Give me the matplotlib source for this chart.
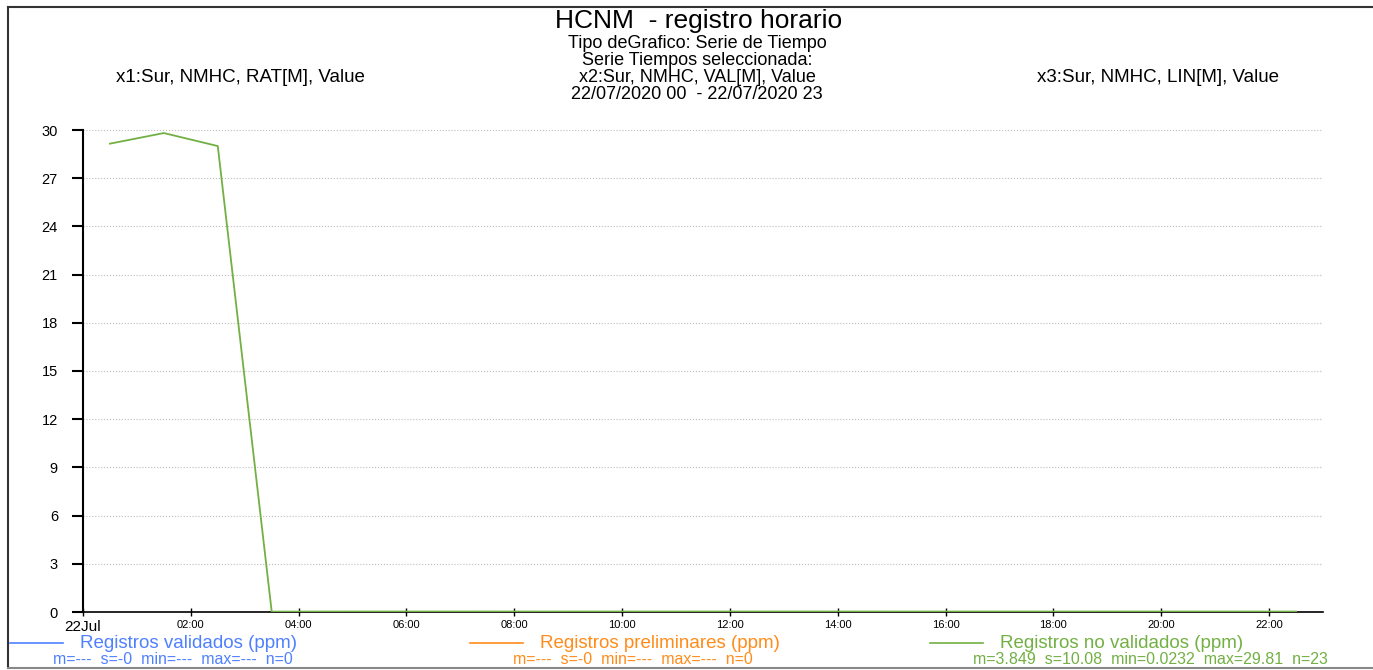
import numpy as np
import pandas as pd
import matplotlib
matplotlib.use("Agg")
import matplotlib.pyplot as plt
from matplotlib.lines import Line2D

plt.rcParams['font.family'] = ['Liberation Sans', 'DejaVu Sans']

# datos: registros horarios del 22/07/2020 (hora en horas decimales)
horas = [0.5, 1.5, 2.5, 3.5, 4.5, 5.5, 6.5, 7.5, 8.5, 9.5, 10.5, 11.5,
         12.5, 13.5, 14.5, 15.5, 16.5, 17.5, 18.5, 19.5, 20.5, 21.5, 22.5]
no_validados = [29.15, 29.81, 29.0, 0.0232, 0.028, 0.03, 0.029, 0.031, 0.027,
                0.03, 0.028, 0.029, 0.03, 0.031, 0.028, 0.027, 0.03, 0.029,
                0.028, 0.03, 0.029, 0.028, 0.027]

ticks_x = [0, 2, 4, 6, 8, 10, 12, 14, 16, 18, 20, 22]
etiquetas_x = ["22Jul", "02:00", "04:00", "06:00", "08:00", "10:00", "12:00",
               "14:00", "16:00", "18:00", "20:00", "22:00"]
ticks_y = [0, 3, 6, 9, 12, 15, 18, 21, 24, 27, 30]

series = ["Registros validados (ppm)", "Registros preliminares (ppm)",
          "Registros no validados (ppm)"]
estadisticas = ["m=---  s=-0  min=---  max=---  n=0",
                "m=---  s=-0  min=---  max=---  n=0",
                "m=3.849  s=10.08  min=0.0232  max=29.81  n=23"]
colores = ["#4f80ff", "#ff8c1a", "#72b043"]

W, H = 1373, 670


def px(x, y):
    # pixeles -> fraccion de figura
    return x / W, 1 - y / H


fig = plt.figure(figsize=(W / 100, H / 100), dpi=100)
ax = fig.add_axes([83 / W, 1 - 612 / H, (1323 - 83) / W, (612 - 130) / H])

ax.plot(horas, no_validados, color=colores[2], linewidth=1.3, zorder=3)

ax.set_xlim(0, 23)
ax.set_ylim(0, 30)
ax.set_yticks(ticks_y)
ax.set_xticks(ticks_x)
ax.set_xticklabels(etiquetas_x)
ax.grid(axis="y", linestyle=":", color="#bbbbbb", linewidth=0.8)
ax.spines["top"].set_visible(False)
ax.spines["right"].set_visible(False)
ax.spines["left"].set_linewidth(1.5)
ax.spines["bottom"].set_linewidth(1.2)
ax.tick_params(axis="y", length=8, width=1.5, labelsize=10.5, pad=10)
ax.tick_params(axis="x", direction="inout", length=6, width=1.0,
               labelsize=8, pad=2.5)
ax.get_xticklabels()[0].set_fontsize(11)

# titulos
fig.text(*px(699, 21), "HCNM  - registro horario", ha="center", va="center",
         fontsize=19)
sub = ["Tipo deGrafico: Serie de Tiempo", "Serie Tiempos seleccionada:",
       "x2:Sur, NMHC, VAL[M], Value", "22/07/2020 00  - 22/07/2020 23"]
for i, t in enumerate(sub):
    fig.text(*px(697, 43 + i * 17.3), t, ha="center", va="center", fontsize=13)
fig.text(*px(240, 78), "x1:Sur, NMHC, RAT[M], Value", ha="center",
         va="center", fontsize=13.5)
fig.text(*px(1158, 78), "x3:Sur, NMHC, LIN[M], Value", ha="center",
         va="center", fontsize=13.5)

# leyenda inferior
for i, x0 in enumerate([10, 470, 930]):
    fig.add_artist(Line2D([x0 / W, (x0 + 53) / W], [1 - 643 / H] * 2,
                          color=colores[i], linewidth=1.2))
    fig.text(*px(x0 + 70, 644), series[i], ha="left", va="center",
             fontsize=13.5, color=colores[i])
    fig.text(*px(x0 + 43, 660), estadisticas[i], ha="left", va="center",
             fontsize=11.5, color=colores[i])

# marco
borde = "#333333"
fig.add_artist(Line2D([8 / W, 1], [1 - 7 / H] * 2, color=borde, linewidth=1.5))
fig.add_artist(Line2D([8 / W, 8 / W], [1 - 7 / H, 1 - 668 / H], color=borde,
                      linewidth=1.5))
fig.add_artist(Line2D([8 / W, 1], [1 - 668 / H] * 2, color="#888888",
                      linewidth=1.5))

fig.savefig("out.png", dpi=100)
